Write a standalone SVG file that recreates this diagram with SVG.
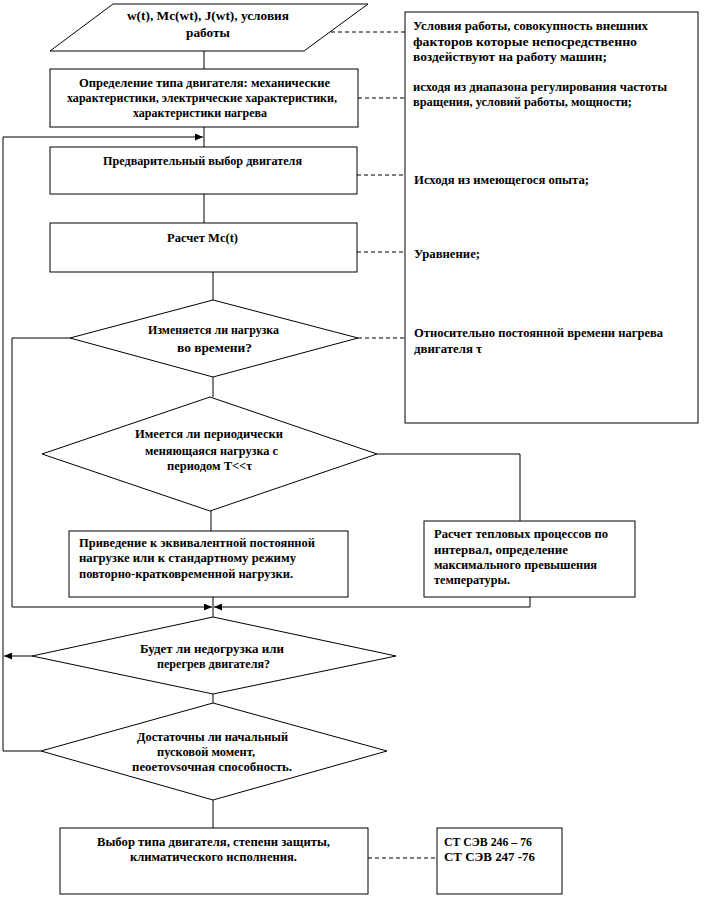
<svg xmlns="http://www.w3.org/2000/svg" width="706" height="899" viewBox="0 0 706 899">
<style>
.s{fill:#fff;stroke:#000;stroke-width:1}
.l{fill:none;stroke:#000;stroke-width:1}
.d{fill:none;stroke:#000;stroke-width:1;stroke-dasharray:4,3}
.t text{font-weight:bold;font-size:12px;fill:#000}
.c{text-anchor:middle}
</style>
<defs>
<marker id="ah" markerUnits="userSpaceOnUse" markerWidth="8" markerHeight="7" refX="8" refY="3.5" orient="auto">
<path d="M0,0 L8,3.5 L0,7 z" fill="#000"/>
</marker>
</defs>
<rect width="706" height="899" fill="#fff"/>
<g id="connectors">
<line class="l" x1="204" y1="51" x2="204" y2="69"/>
<line class="l" x1="204" y1="127" x2="204" y2="147"/>
<line class="l" x1="204" y1="194" x2="204" y2="223"/>
<line class="l" x1="213" y1="272" x2="213" y2="300"/>
<line class="l" x1="213" y1="377" x2="213" y2="397"/>
<line class="l" x1="211" y1="511" x2="211" y2="531"/>
<line class="l" x1="213" y1="597" x2="213" y2="617"/>
<line class="l" x1="213" y1="694" x2="213" y2="703"/>
<line class="l" x1="213" y1="800" x2="213" y2="828"/>
<polyline class="l" points="41,751 3,751 3,137 203,137" marker-end="url(#ah)"/>
<polyline class="l" points="70,338 12,338 12,607 212,607" marker-end="url(#ah)"/>
<polyline class="l" points="377,454 520,454 520,521"/>
<polyline class="l" points="530,597 530,607 214,607" marker-end="url(#ah)"/>
<line class="l" x1="32" y1="656" x2="4" y2="656" marker-end="url(#ah)"/>
<line class="d" x1="331" y1="32" x2="405" y2="32"/>
<line class="d" x1="358" y1="98" x2="405" y2="98"/>
<line class="d" x1="357" y1="175" x2="405" y2="175"/>
<line class="d" x1="357" y1="252" x2="405" y2="252"/>
<line class="d" x1="358" y1="338" x2="405" y2="338"/>
<line class="d" x1="368" y1="858" x2="437" y2="858"/>
</g>
<g class="t" font-family="'Liberation Serif', 'Times New Roman', 'DejaVu Serif', serif">
<g id="input">
<polygon class="s" points="113,4 368,4 304,51 50,51"/>
<text class="c" x="208" y="20" textLength="162" lengthAdjust="spacingAndGlyphs">w(t), Мс(wt), J(wt),   условия</text>
<text class="c" x="208" y="37" textLength="44" lengthAdjust="spacingAndGlyphs">работы</text>
</g>
<g id="type">
<rect class="s" x="50" y="69" width="308" height="58"/>
<text class="c" x="204.5" y="87" textLength="251" lengthAdjust="spacingAndGlyphs">Определение типа двигателя:  механические</text>
<text class="c" x="202" y="102" textLength="270" lengthAdjust="spacingAndGlyphs">характеристики,  электрические характеристики,</text>
<text class="c" x="200" y="117" textLength="134" lengthAdjust="spacingAndGlyphs">характеристики  нагрева</text>
</g>
<g id="prelim">
<rect class="s" x="50" y="147" width="307" height="47"/>
<text class="c" x="202.5" y="165" textLength="199" lengthAdjust="spacingAndGlyphs">Предварительный  выбор двигателя</text>
</g>
<g id="calc">
<rect class="s" x="50" y="223" width="307" height="49"/>
<text class="c" x="202.5" y="242" textLength="71" lengthAdjust="spacingAndGlyphs">Расчет Мс(t)</text>
</g>
<g id="d1">
<polygon class="s" points="213,300 358,338 213,377 70,338"/>
<text class="c" x="213.5" y="334" textLength="131" lengthAdjust="spacingAndGlyphs">Изменяется ли нагрузка</text>
<text class="c" x="214.5" y="352" textLength="75" lengthAdjust="spacingAndGlyphs">во времени?</text>
</g>
<g id="d2">
<polygon class="s" points="210,397 377,454 210,511 42,454"/>
<text class="c" x="209" y="438" textLength="148" lengthAdjust="spacingAndGlyphs">Имеется ли периодически</text>
<text class="c" x="211.5" y="455" textLength="133" lengthAdjust="spacingAndGlyphs">меняющаяся нагрузка с</text>
<text class="c" x="209.5" y="470" textLength="85" lengthAdjust="spacingAndGlyphs">периодом T&lt;&lt;τ</text>
</g>
<g id="equiv">
<rect class="s" x="69" y="531" width="279" height="66"/>
<text x="79" y="547" textLength="236" lengthAdjust="spacingAndGlyphs">Приведение к эквивалентной постоянной</text>
<text x="79" y="562" textLength="217" lengthAdjust="spacingAndGlyphs">нагрузке или к стандартному режиму</text>
<text x="79" y="578" textLength="214" lengthAdjust="spacingAndGlyphs">повторно-кратковременной нагрузки.</text>
</g>
<g id="thermal">
<rect class="s" x="424" y="521" width="211" height="76"/>
<text x="434" y="538" textLength="174" lengthAdjust="spacingAndGlyphs">Расчет тепловых  процессов по</text>
<text x="434" y="554" textLength="134" lengthAdjust="spacingAndGlyphs">интервал,  определение</text>
<text x="434" y="569" textLength="163" lengthAdjust="spacingAndGlyphs">максимального превышения</text>
<text x="434" y="584" textLength="76" lengthAdjust="spacingAndGlyphs">температуры.</text>
</g>
<g id="d3">
<polygon class="s" points="213,617 396,656 213,694 32,656"/>
<text class="c" x="212" y="653" textLength="144" lengthAdjust="spacingAndGlyphs">Будет ли недогрузка или</text>
<text class="c" x="213.5" y="668" textLength="113" lengthAdjust="spacingAndGlyphs">перегрев двигателя?</text>
</g>
<g id="d4">
<polygon class="s" points="213,703 387,751 213,800 41,751"/>
<text class="c" x="212.5" y="741" textLength="151" lengthAdjust="spacingAndGlyphs">Достаточны ли начальный</text>
<text class="c" x="206" y="756" textLength="98" lengthAdjust="spacingAndGlyphs">пусковой момент,</text>
<text class="c" x="212" y="771" textLength="160" lengthAdjust="spacingAndGlyphs">пеоетоvsочная способность.</text>
</g>
<g id="choice">
<rect class="s" x="60" y="828" width="308" height="66"/>
<text class="c" x="213.5" y="846" textLength="233" lengthAdjust="spacingAndGlyphs">Выбор типа двигателя,  степени защиты,</text>
<text class="c" x="213.5" y="861" textLength="167" lengthAdjust="spacingAndGlyphs">климатического  исполнения.</text>
</g>
<g id="standards">
<rect class="s" x="437" y="828" width="125" height="66"/>
<text x="444" y="846" textLength="88" lengthAdjust="spacingAndGlyphs">СТ СЭВ 246 – 76</text>
<text x="444" y="861" textLength="91" lengthAdjust="spacingAndGlyphs">СТ СЭВ 247 -76</text>
</g>
<g id="notes">
<rect class="s" x="405" y="12" width="293" height="411"/>
<text x="413" y="30" textLength="235" lengthAdjust="spacingAndGlyphs">Условия работы, совокупность внешних</text>
<text x="413" y="46" textLength="224" lengthAdjust="spacingAndGlyphs">факторов которые непосредственно</text>
<text x="413" y="61" textLength="194" lengthAdjust="spacingAndGlyphs">воздействуют  на работу машин;</text>
<text x="413" y="91" textLength="254" lengthAdjust="spacingAndGlyphs">исходя  из диапазона  регулирования частоты</text>
<text x="413" y="106" textLength="219" lengthAdjust="spacingAndGlyphs">вращения, условий работы, мощности;</text>
<text x="414" y="184" textLength="175" lengthAdjust="spacingAndGlyphs">Исходя  из имеющегося опыта;</text>
<text x="414" y="258" textLength="66" lengthAdjust="spacingAndGlyphs">Уравнение;</text>
<text x="414" y="337" textLength="249" lengthAdjust="spacingAndGlyphs">Относительно  постоянной времени нагрева</text>
<text x="414" y="353" textLength="68" lengthAdjust="spacingAndGlyphs">двигателя  τ</text>
</g>
</g>
</svg>
